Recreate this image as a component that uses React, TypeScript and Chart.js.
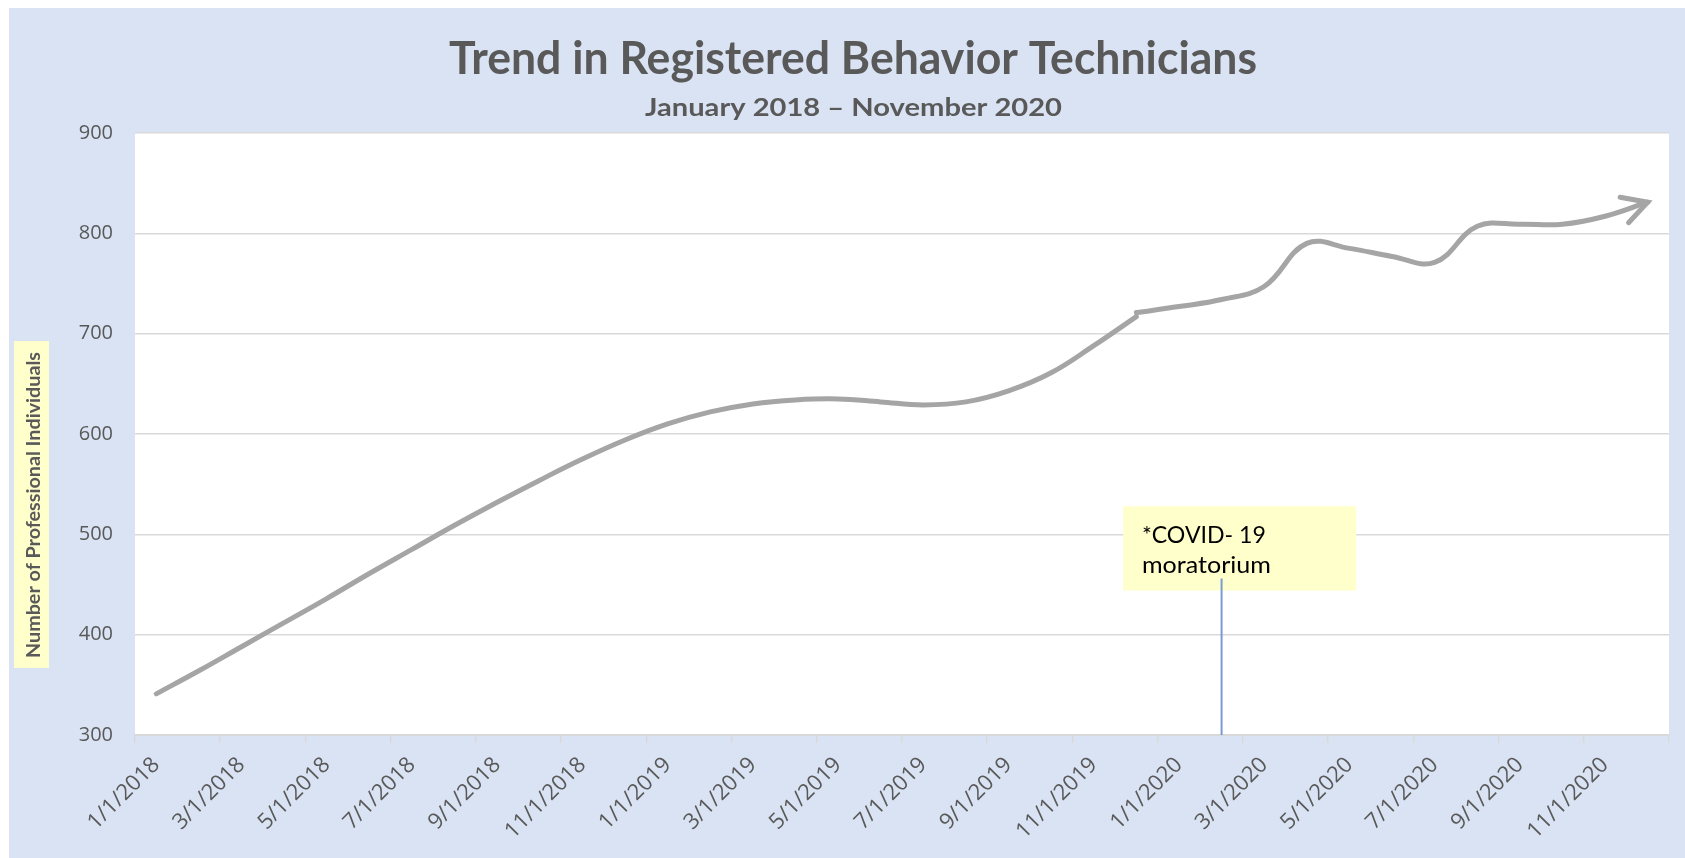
import React, { useEffect, useRef } from 'react';
import { Chart, registerables } from 'chart.js';

Chart.register(...registerables);

// ---- data ----
const months = [
  '1/1/2018', '2/1/2018', '3/1/2018', '4/1/2018', '5/1/2018', '6/1/2018',
  '7/1/2018', '8/1/2018', '9/1/2018', '10/1/2018', '11/1/2018', '12/1/2018',
  '1/1/2019', '2/1/2019', '3/1/2019', '4/1/2019', '5/1/2019', '6/1/2019',
  '7/1/2019', '8/1/2019', '9/1/2019', '10/1/2019', '11/1/2019', '12/1/2019',
  '1/1/2020', '2/1/2020', '3/1/2020', '4/1/2020', '5/1/2020', '6/1/2020',
  '7/1/2020', '8/1/2020', '9/1/2020', '10/1/2020', '11/1/2020', '12/1/2020',
];

// Jan 2018 – Dec 2019 segment
const seriesA: (number | null)[] = [
  341, 364, 388, 412, 436, 461, 485, 509, 532, 554, 575, 594,
  610, 622, 630, 634, 635, 632, 629, 632, 643, 661, 688, 717,
  null, null, null, null, null, null, null, null, null, null, null, null,
];

// Dec 2019 – Dec 2020 segment
const seriesB: (number | null)[] = [
  null, null, null, null, null, null, null, null, null, null, null, null,
  null, null, null, null, null, null, null, null, null, null, null, 721,
  727, 734, 747, 790, 785, 777, 771, 807, 809, 809, 817, 831,
];

const covidMonth = '2/1/2020';
const covidLineValues = [300, 456];

const yTicks = { min: 300, max: 900, step: 100 };

const TITLE = 'Trend in Registered Behavior Technicians';
const SUBTITLE = 'January 2018 \u2013 November 2020';
const Y_TITLE = 'Number of Professional Individuals';
const NOTE_LINES = ['*COVID- 19', 'moratorium'];

// ---- styling ----
const GREY_TEXT = '#595959';
const LINE_GREY = '#a5a5a5';
const GRID = '#d9d9d9';
const PANEL = '#dae3f3';
const NOTE_BG = '#ffffcc';
const TICK_FONT = "'Open Sans'";

function drawFitted(
  ctx: CanvasRenderingContext2D,
  text: string,
  x: number,
  y: number,
  font: string,
  targetWidth: number,
  color: string,
  align: CanvasTextAlign,
) {
  ctx.save();
  ctx.font = font;
  const w = ctx.measureText(text).width || 1;
  const sx = targetWidth / w;
  ctx.translate(x, y);
  ctx.scale(sx, 1);
  ctx.textAlign = align;
  ctx.textBaseline = 'alphabetic';
  ctx.fillStyle = color;
  ctx.fillText(text, 0, 0);
  ctx.restore();
}

const decorPlugin = {
  id: 'decor',
  beforeDraw(chart: any) {
    const { ctx, chartArea: a } = chart;
    ctx.save();
    ctx.fillStyle = '#ffffff';
    ctx.fillRect(a.left, a.top, a.right - a.left, a.bottom - a.top);

    drawFitted(ctx, TITLE, 844, 66, 'bold 45px Lato', 808, GREY_TEXT, 'center');
    drawFitted(ctx, SUBTITLE, 844.5, 107.5, 'bold 25px Lato', 417, GREY_TEXT, 'center');

    // y axis title with yellow backing
    ctx.fillStyle = NOTE_BG;
    ctx.fillRect(5, 333, 35, 327);
    ctx.save();
    ctx.translate(30.5, 497);
    ctx.rotate(-Math.PI / 2);
    drawFitted(ctx, Y_TITLE, 0, 0, 'bold 18px Lato', 306, GREY_TEXT, 'center');
    ctx.restore();
    ctx.restore();
  },
  beforeDatasetsDraw(chart: any) {
    const { ctx } = chart;
    const xs = chart.scales.x;
    const ys = chart.scales.y;
    const left = xs.getPixelForValue(22.69);
    const right = xs.getPixelForValue(28.16);
    const top = ys.getPixelForValue(528);
    const bottom = ys.getPixelForValue(444);
    ctx.save();
    ctx.fillStyle = NOTE_BG;
    ctx.fillRect(left, top, right - left, bottom - top);
    const tx = xs.getPixelForValue(23.13);
    drawFitted(ctx, NOTE_LINES[0], tx, ys.getPixelForValue(491.3), '24px Lato', 124, '#000000', 'left');
    drawFitted(ctx, NOTE_LINES[1], tx, ys.getPixelForValue(461.4), '24px Lato', 129, '#000000', 'left');
    ctx.restore();
  },
  afterDatasetsDraw(chart: any) {
    const { ctx } = chart;
    const meta = chart.getDatasetMeta(1);
    const pts = meta.data;
    const last: any = pts[pts.length - 1];
    if (!last) return;
    let dx = last.x - last.cp1x;
    let dy = last.y - last.cp1y;
    if (!isFinite(dx) || !isFinite(dy) || Math.hypot(dx, dy) < 0.5) {
      const prev: any = pts[pts.length - 2];
      dx = last.x - prev.x;
      dy = last.y - prev.y;
    }
    const ang = Math.atan2(dy, dx);
    const len = 28;
    const spread = 0.5;
    const a1 = ang + Math.PI - spread;
    const a2 = ang + Math.PI + spread;
    ctx.save();
    ctx.strokeStyle = LINE_GREY;
    ctx.lineWidth = 5;
    ctx.lineCap = 'round';
    ctx.lineJoin = 'miter';
    ctx.beginPath();
    ctx.moveTo(last.x + len * Math.cos(a1), last.y + len * Math.sin(a1));
    ctx.lineTo(last.x, last.y);
    ctx.lineTo(last.x + len * Math.cos(a2), last.y + len * Math.sin(a2));
    ctx.stroke();
    ctx.restore();
  },
};

export default function App() {
  const ref = useRef<HTMLCanvasElement | null>(null);

  useEffect(() => {
    if (!ref.current) return;
    const chart = new Chart(ref.current, {
      type: 'line',
      data: {
        labels: months,
        datasets: [
          {
            data: seriesA,
            borderColor: LINE_GREY,
            borderWidth: 5,
            borderCapStyle: 'round',
            borderJoinStyle: 'round',
            tension: 0.4,
            pointRadius: 0,
            fill: false,
          },
          {
            data: seriesB,
            borderColor: LINE_GREY,
            borderWidth: 5,
            borderCapStyle: 'round',
            borderJoinStyle: 'round',
            tension: 0.4,
            pointRadius: 0,
            fill: false,
          },
          {
            data: covidLineValues.map((v) => ({ x: covidMonth, y: v })) as any,
            borderColor: '#7a9ad4',
            borderWidth: 2,
            tension: 0,
            pointRadius: 0,
            fill: false,
          },
        ],
      },
      options: {
        animation: false,
        responsive: false,
        maintainAspectRatio: false,
        layout: { padding: { top: 125, right: 16, left: 0, bottom: 0 } },
        plugins: {
          legend: { display: false },
          title: { display: false },
          tooltip: { enabled: false },
        },
        elements: { point: { radius: 0 } },
        scales: {
          x: {
            type: 'category',
            offset: true,
            grid: {
              offset: true,
              drawOnChartArea: false,
              drawTicks: true,
              tickLength: 8,
              lineWidth: 1.5,
              color: (c: any) =>
                c.index === undefined || c.index % 2 === 0 ? GRID : 'rgba(0,0,0,0)',
            },
            border: { display: true, color: GRID, width: 2 },
            ticks: {
              autoSkip: false,
              maxRotation: 45,
              minRotation: 45,
              padding: 9,
              color: GREY_TEXT,
              font: { family: TICK_FONT, size: 22 },
              callback: (_v: any, i: number) => (i % 2 === 0 ? months[i] : ''),
            },
            afterFit: (s: any) => {
              s.height = 123;
            },
          },
          y: {
            min: yTicks.min,
            max: yTicks.max,
            ticks: {
              stepSize: yTicks.step,
              padding: 22,
              color: GREY_TEXT,
              font: { family: TICK_FONT, size: 20 },
            },
            grid: { color: GRID, lineWidth: 1.5, drawTicks: false },
            border: { display: false },
            afterFit: (s: any) => {
              s.width = 126;
            },
          },
        },
      } as any,
      plugins: [decorPlugin],
    });
    return () => chart.destroy();
  }, []);

  return (
    <div
      style={{
        position: 'fixed',
        left: 9,
        top: 8,
        width: 1676,
        height: 850,
        background: PANEL,
      }}
    >
      <canvas ref={ref} width={1676} height={850} style={{ width: 1676, height: 850, display: 'block' }} />
    </div>
  );
}
